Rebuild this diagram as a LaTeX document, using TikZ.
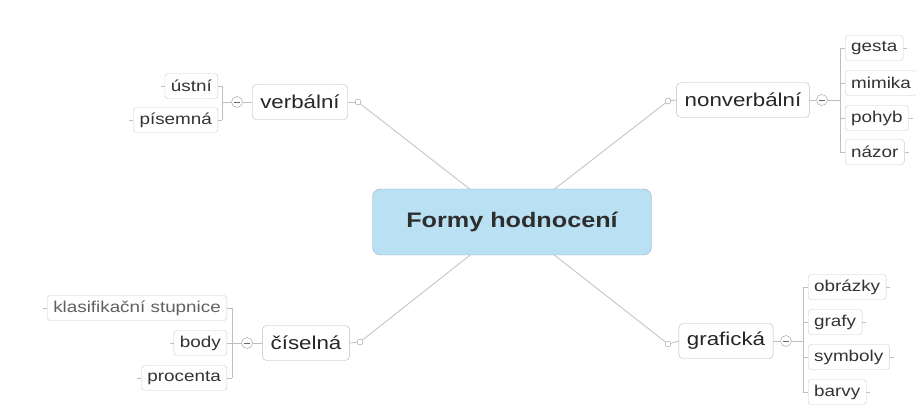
\documentclass[tikz,border=0pt]{standalone}
\usepackage{fontspec}
\setmainfont[FakeStretch=1.2]{Liberation Sans}
\usetikzlibrary{backgrounds}
\definecolor{rootfill}{RGB}{186,225,243}
\definecolor{rootdraw}{RGB}{150,175,190}
\definecolor{linkgray}{RGB}{196,196,196}
\begin{document}
\begin{tikzpicture}[x=1pt,y=-1pt,
  main/.style={draw=black!28, rounded corners=4pt, fill=white, minimum height=35pt,
    inner xsep=8pt, inner ysep=0pt, text=black!85, font=\fontsize{18.6}{20}\selectfont},
  sub/.style={draw=black!20, rounded corners=3pt, fill=white, minimum height=25pt,
    inner xsep=6pt, inner ysep=0pt, text=black!80, font=\fontsize{15.7}{18}\selectfont},
  link/.style={draw=linkgray, line width=0.9pt},
  blink/.style={draw=black!25, line width=0.8pt},
  knob/.style={circle, draw=black!40, fill=white, minimum size=6pt, inner sep=0pt},
  fold/.style={circle, draw=black!40, fill=white, minimum size=11pt, inner sep=0pt},
]
\useasboundingbox (0,0) rectangle (916,419);

% root
\node[draw=rootdraw, fill=rootfill, rounded corners=8pt, minimum width=279pt,
  minimum height=66pt, text=black!82, font=\bfseries\fontsize{21}{24}\selectfont]
  (root) at (512,222) {Formy hodnocení};

% main topics
\node[main] (verb) at (300,102) {verbální};
\node[main] (nonv) at (743,100) {nonverbální};
\node[main] (cis) at (306,343) {číselná};
\node[main] (graf) at (726,341) {grafická};

% knobs on the root side
\node[knob] (kv) at (358,102) {};
\node[knob] (kn) at (668,101) {};
\node[knob] (kc) at (360,342) {};
\node[knob] (kg) at (668,344) {};

% fold buttons
\node[fold] (fv) at (237,102) {};
\node[fold] (fn) at (822,100) {};
\node[fold] (fc) at (247,343) {};
\node[fold] (fg) at (786,341) {};
\foreach \f in {fv,fn,fc,fg}{
  \draw[black!60, line width=0.8pt] ([xshift=-3pt]\f.center) -- ([xshift=3pt]\f.center);
}

% bracket coordinates
\coordinate (bv) at (222,102);
\coordinate (bn) at (840,100);
\coordinate (bc) at (232,343);
\coordinate (bg) at (803,341);

% children of verbální
\node[sub, anchor=east] (v1) at (218,86) {ústní};
\node[sub, anchor=east] (v2) at (218,120) {písemná};
% children of nonverbální
\node[sub, anchor=west] (n1) at (845,48) {gesta};
\node[sub, anchor=west] (n2) at (845,83) {mimika};
\node[sub, anchor=west] (n3) at (845,118) {pohyb};
\node[sub, anchor=west] (n4) at (845,152) {názor};
% children of číselná
\node[sub, anchor=east, text=black!62] (c1) at (227,308) {klasifikační stupnice};
\node[sub, anchor=east] (c2) at (227,343) {body};
\node[sub, anchor=east] (c3) at (227,378) {procenta};
% children of grafická
\node[sub, anchor=west] (g1) at (808,287) {obrázky};
\node[sub, anchor=west] (g2) at (808,322) {grafy};
\node[sub, anchor=west] (g3) at (808,357) {symboly};
\node[sub, anchor=west] (g4) at (808,392) {barvy};

\begin{scope}[on background layer]
  % root links
  \draw[link] (root.center) -- (kv);
  \draw[link] (root.center) -- (kn);
  \draw[link] (root.center) -- (kc);
  \draw[link] (root.center) -- (kg);
  \draw[blink] (verb.east) -- (kv);
  \draw[blink] (nonv.west) -- (kn);
  \draw[blink] (cis.east) -- (kc);
  \draw[blink] (graf.west) -- (kg);
  % main to fold
  \draw[blink] (verb.west) -- (fv);
  \draw[blink] (nonv.east) -- (fn);
  \draw[blink] (cis.west) -- (fc);
  \draw[blink] (graf.east) -- (fg);
  % fold to bracket
  \draw[blink] (fv) -- (bv);
  \draw[blink] (fn) -- (bn);
  \draw[blink] (fc) -- (bc);
  \draw[blink] (fg) -- (bg);
  % brackets
  \draw[blink] (v1.east -| bv) -- (v2.east -| bv);
  \draw[blink] (n1.west -| bn) -- (n4.west -| bn);
  \draw[blink] (c1.east -| bc) -- (c3.east -| bc);
  \draw[blink] (g1.west -| bg) -- (g4.west -| bg);
  \foreach \c in {v1,v2}{\draw[blink] (\c.east) -- (\c.east -| bv); \draw[blink] (\c.west) -- ++(-4,0);}
  \foreach \c in {c1,c2,c3}{\draw[blink] (\c.east) -- (\c.east -| bc); \draw[blink] (\c.west) -- ++(-4,0);}
  \foreach \c in {n1,n2,n3,n4}{\draw[blink] (\c.west) -- (\c.west -| bn); \draw[blink] (\c.east) -- ++(4,0);}
  \foreach \c in {g1,g2,g3,g4}{\draw[blink] (\c.west) -- (\c.west -| bg); \draw[blink] (\c.east) -- ++(4,0);}
\end{scope}
\end{tikzpicture}
\end{document}
